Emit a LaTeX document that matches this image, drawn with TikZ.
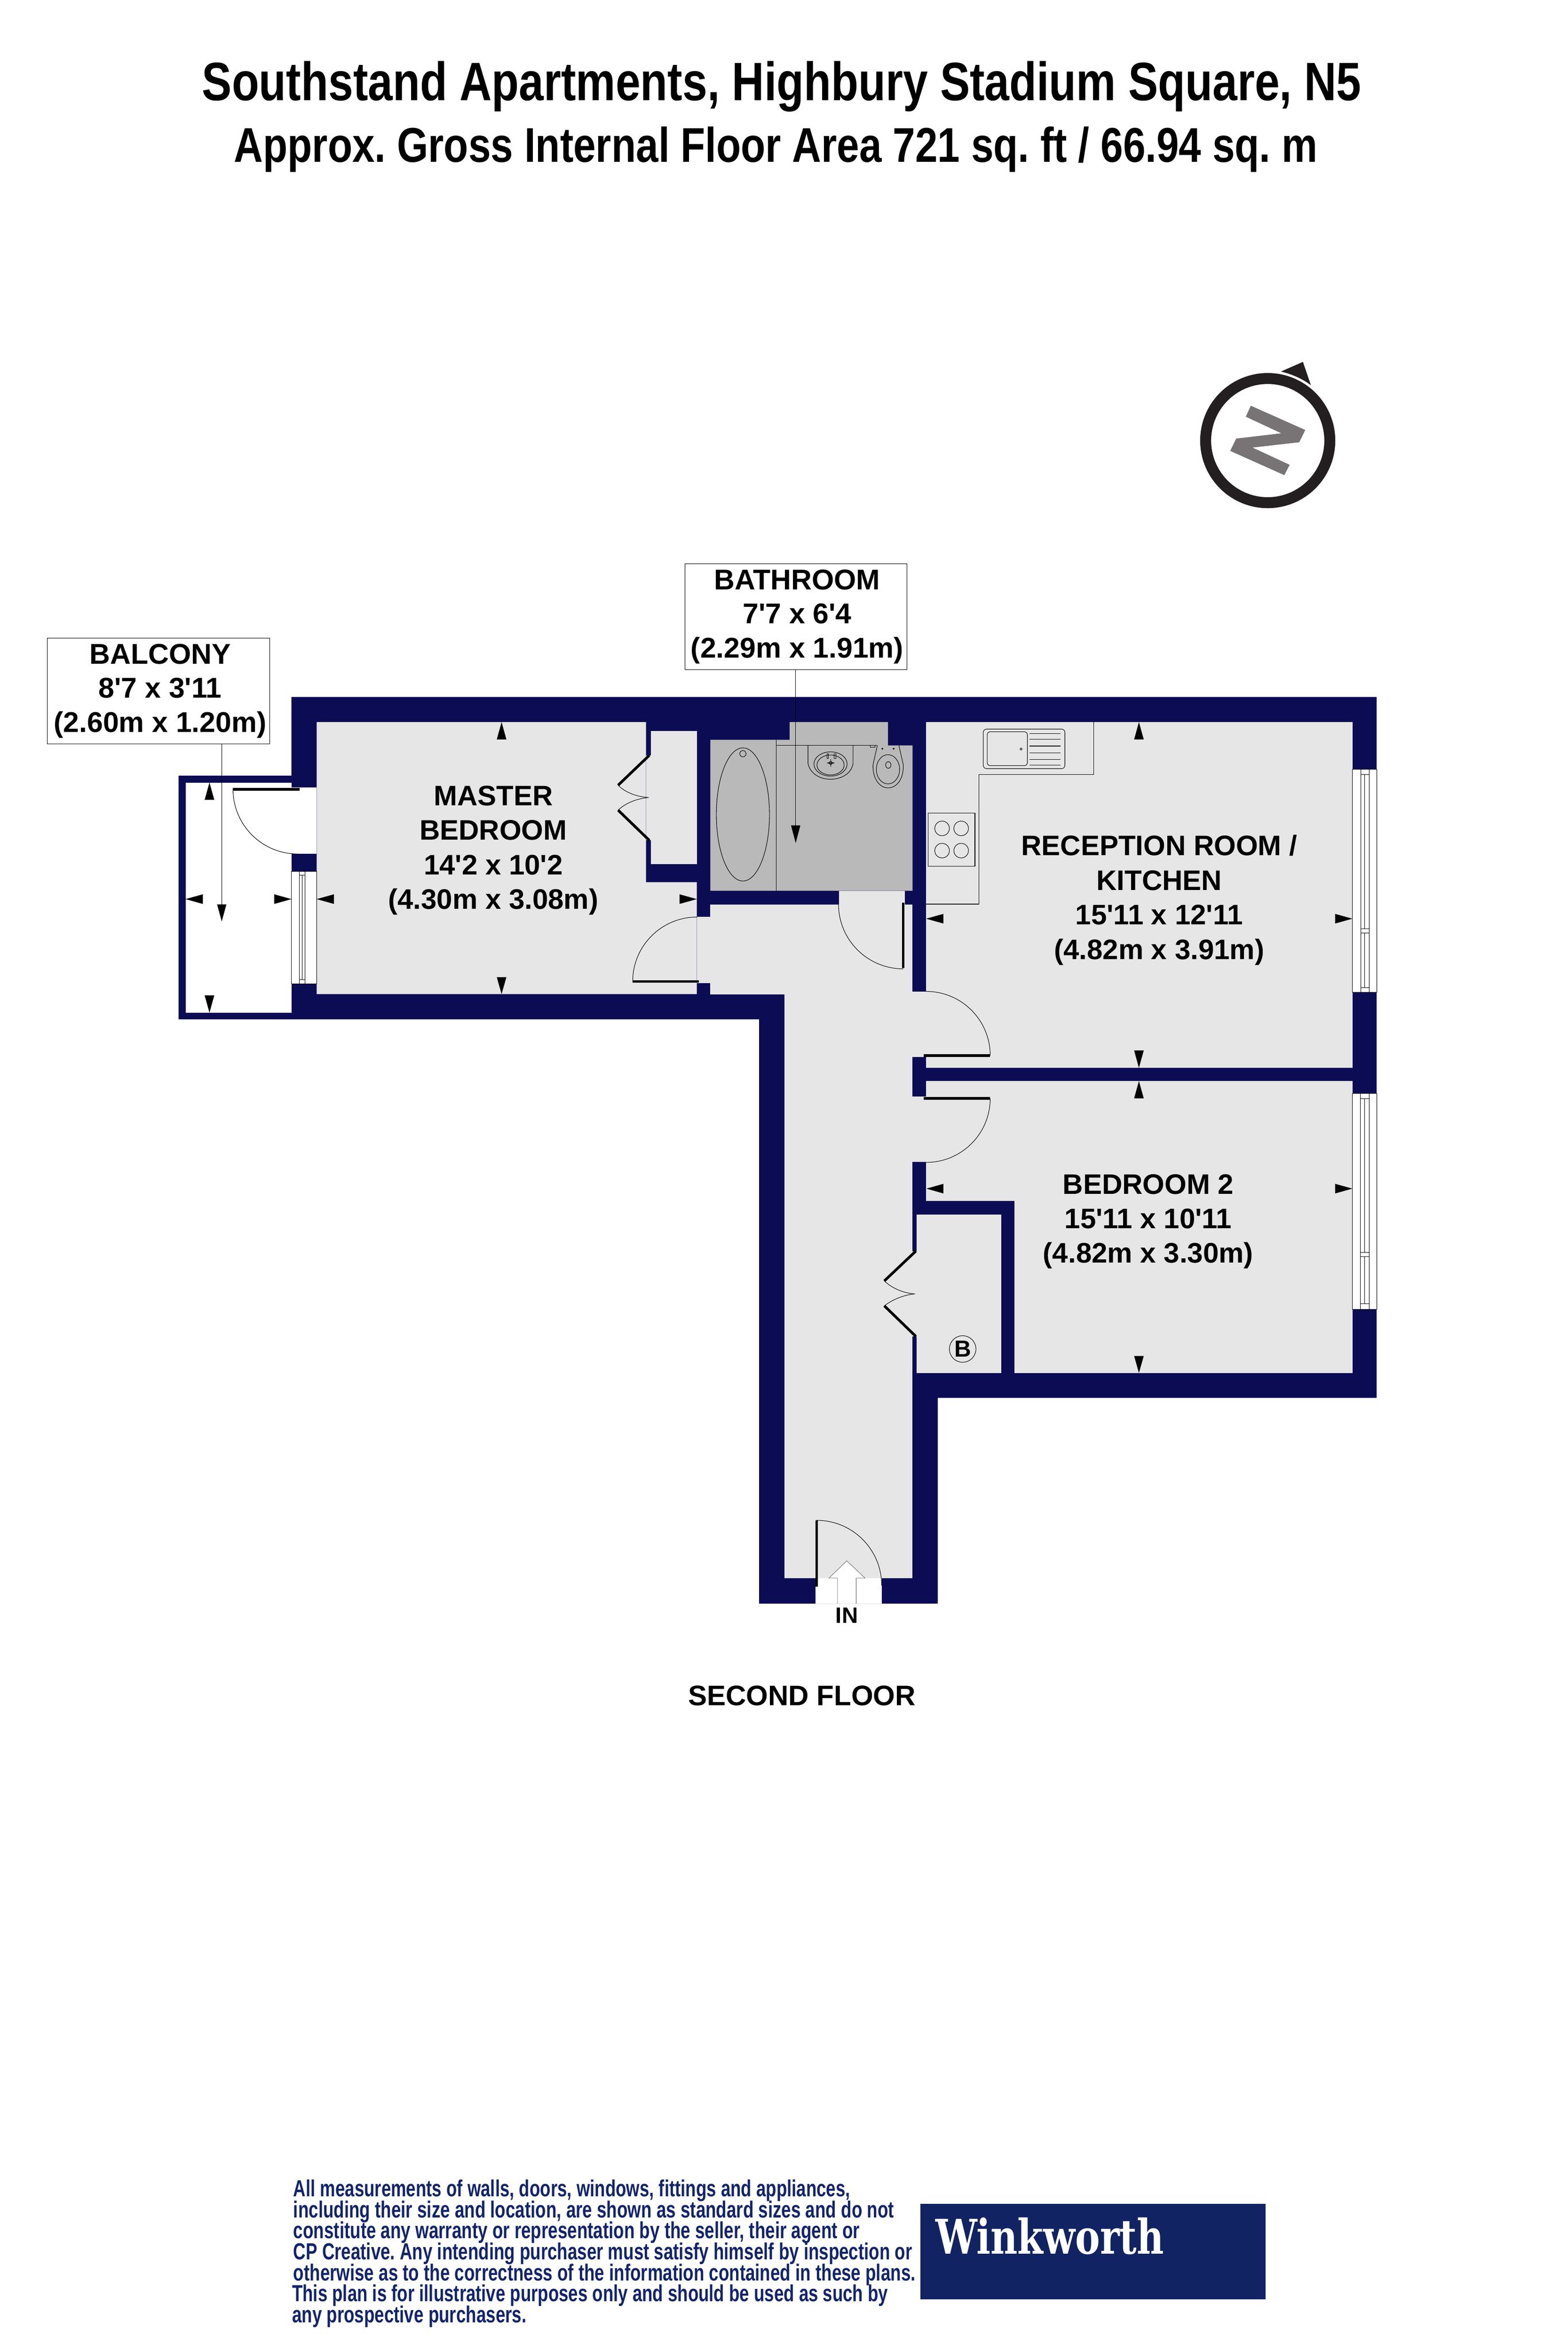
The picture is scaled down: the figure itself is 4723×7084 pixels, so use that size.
\documentclass[tikz,border=0pt]{standalone}
\usepackage{fontspec}
\usepackage{graphicx}
\setmainfont[Ligatures=TeXOff]{Liberation Sans}
\newfontfamily\logofont{DejaVu Serif}
\definecolor{wallnavy}{HTML}{0C0C55}
\definecolor{floorgrey}{HTML}{E6E6E6}
\definecolor{bathgrey}{HTML}{B9B9B9}
\definecolor{printnavy}{HTML}{12246A}
\definecolor{logonavy}{HTML}{122363}
\definecolor{compassblack}{HTML}{231F20}
\definecolor{compassgrey}{HTML}{787476}
\newcommand{\varrow}[3]{\fill[black] (#1,#2) -- ({#1-14.5},#3) -- ({#1+14.5},#3) -- cycle;}
\newcommand{\harrow}[3]{\fill[black] (#2,#1) -- (#3,{#1-14.5}) -- (#3,{#1+14.5}) -- cycle;}
\newcommand{\doorarc}[7]{\draw[fine] ({#1+#7*#3},{#2+#7*#4}) .. controls ({#1+#7*#3+.5523*#7*#5},{#2+#7*#4+.5523*#7*#6}) and ({#1+#7*#5+.5523*#7*#3},{#2+#7*#6+.5523*#7*#4}) .. ({#1+#7*#5},{#2+#7*#6});}
\newcommand{\footline}[5]{\node[anchor=base west,inner sep=0pt,text=printnavy,font=\fontsize{14}{16}\selectfont\bfseries] (#1) at (#2,#3) {\resizebox{#4}{\height}{#5}};}
\tikzset{
  fine/.style={black,line width=0.3pt},
  leaf/.style={black,line width=1.6pt},
  roomtext/.style={inner sep=0pt,align=center,font=\fontsize{17}{20.8}\selectfont\bfseries},
  labelbox/.style={draw=black,line width=0.3pt,fill=white,inner sep=0pt,align=center,font=\fontsize{17.2}{20.6}\selectfont\bfseries},
  pane/.style={draw=black,line width=0.25pt}
}
\begin{document}
\frenchspacing
\begin{tikzpicture}[x=0.2pt,y=-0.2pt]
\useasboundingbox (0,0) rectangle (4723,7084);
\fill[white] (0,0) rectangle (4723,7084);
% title
\node[anchor=base west,inner sep=0pt,font=\fontsize{32.6}{36}\selectfont\bfseries] (title) at (608,302) {\resizebox{698.4pt}{\height}{Southstand Apartments, Highbury Stadium Square, N5}};
\node[anchor=base west,inner sep=0pt,font=\fontsize{29.4}{32}\selectfont\bfseries] (subtitle) at (704,488) {\resizebox{652.8pt}{\height}{Approx. Gross Internal Floor Area 721 sq. ft / 66.94 sq. m}};
% compass
\draw[compassblack,line width=6.6pt] (3819,1327) circle[radius=187];
\fill[compassblack] (3859,1119) -- (3925,1090) -- (3949,1160) .. controls (3922,1140) and (3892,1127) .. (3859,1119) -- cycle;
\fill[compassgrey] (3768,1222) -- (3932,1295) -- (3914,1332) -- (3773,1348) -- (3885,1400) -- (3869,1431) -- (3706,1358) -- (3724,1321) -- (3860,1305) -- (3753,1255) -- cycle;
% shell
\fill[wallnavy] (878,2099) -- (4147,2099) -- (4147,4210) -- (2825,4210) -- (2825,4830) -- (2287,4830) -- (2287,3070) -- (538,3070) -- (538,2336) -- (878,2336) -- cycle;
\fill[white] (559,2357) rectangle (878,3050);
% floors
\fill[floorgrey] (954,2175) -- (1946,2175) -- (1946,2657) -- (2099,2657) -- (2099,2994) -- (954,2994) -- cycle;
\fill[floorgrey] (1961,2201) rectangle (2099,2602);
\fill[floorgrey] (1946,2275) rectangle (1961,2531);
\fill[floorgrey] (2099,2762) rectangle (2140,2961);
\fill[floorgrey] (2140,2724) rectangle (2749,2995);
\fill[floorgrey] (2527,2683) rectangle (2726,2724);
\fill[wallnavy] (2726,2683) rectangle (2749,2724);
\fill[floorgrey] (2363,2995) rectangle (2748,4753);
\fill[floorgrey] (2748,2986) rectangle (2791,3184);
\fill[floorgrey] (2748,3303) rectangle (2791,3500);
\fill[floorgrey] (2790,2175) rectangle (4074,3216);
\fill[floorgrey] (2790,3256) rectangle (4074,3617);
\fill[floorgrey] (3056,3617) rectangle (4074,4135);
\fill[floorgrey] (2762,3658) rectangle (3016,4135);
\fill[floorgrey] (2748,3768) rectangle (2762,4025);
\fill[bathgrey] (2140,2228) -- (2379,2228) -- (2379,2175) -- (2675,2175) -- (2675,2245) -- (2749,2245) -- (2749,2683) -- (2140,2683) -- cycle;
% openings
\fill[white] (878,2372) rectangle (954,2572);
\fill[white] (2456,4753) rectangle (2657,4830);
% windows
\fill[white] (878,2624) rectangle (954,2963);
\draw[pane] (878,2624) rectangle (954,2963);
\draw[pane] (902,2624) -- (902,2963) (918,2624) -- (918,2963) (902,2636) -- (918,2636) (902,2951) -- (918,2951) (910,2636) -- (910,2951);
\fill[white] (4074,2317) rectangle (4147,2989);
\draw[pane] (4074,2317) rectangle (4147,2989);
\draw[pane] (4099,2317) -- (4099,2989) (4125,2317) -- (4125,2989) (4099,2332) -- (4125,2332) (4099,2797) -- (4125,2797) (4099,2810) -- (4125,2810) (4099,2974) -- (4125,2974) (4111,2332) -- (4111,2797) (4111,2810) -- (4111,2974);
\fill[white] (4074,3293) rectangle (4147,3943);
\draw[pane] (4074,3293) rectangle (4147,3943);
\draw[pane] (4098,3293) -- (4098,3943) (4125,3293) -- (4125,3943) (4098,3309) -- (4125,3309) (4098,3772) -- (4125,3772) (4098,3785) -- (4125,3785) (4098,3927) -- (4125,3927) (4111,3309) -- (4111,3772) (4111,3785) -- (4111,3927);
% doors
\draw[leaf] (702,2377) -- (903,2377);
\doorarc{897}{2377}{-1}{0}{0}{1}{195}
\draw[leaf] (1906,2956) -- (2105,2956);
\doorarc{2100}{2956}{-1}{0}{0}{-1}{194}
\draw[leaf] (2721,2719) -- (2721,2916);
\doorarc{2721}{2723}{-1}{0}{0}{1}{195}
\draw[leaf] (2783,3179) -- (2983,3179);
\doorarc{2790}{3179}{1}{0}{0}{-1}{193}
\draw[leaf] (2783,3308) -- (2983,3308);
\doorarc{2790}{3308}{1}{0}{0}{1}{193}
\draw[leaf] (2460,4579) -- (2460,4779);
\doorarc{2460}{4775}{0}{-1}{1}{0}{196}
% wardrobe and boiler cupboard doors
\draw[leaf] (1956,2275) -- (1862,2365);
\draw[leaf] (1956,2531) -- (1862,2440);
\draw[fine] (1862,2365) .. controls (1885,2388) and (1920,2400) .. (1954,2402);
\draw[fine] (1862,2440) .. controls (1885,2418) and (1920,2405) .. (1954,2402);
\draw[leaf] (2759,3768) -- (2664,3858);
\draw[leaf] (2759,4025) -- (2664,3933);
\draw[fine] (2664,3858) .. controls (2687,3880) and (2722,3895) .. (2756,3897);
\draw[fine] (2664,3933) .. controls (2687,3915) and (2722,3900) .. (2756,3897);
\draw[fine] (2900,4063) circle[radius=40];
\node[inner sep=0pt,font=\fontsize{14}{14}\selectfont\bfseries] (boiler) at (2900,4063) {B};
% bathroom fittings
\draw[fine] (2338,2228) -- (2338,2683);
\draw[fine] (2338,2245) -- (2643,2245);
\draw[fine] (2238,2453) ellipse[x radius=80,y radius=200.5];
\draw[fine] (2238,2270) circle[radius=9.5];
\draw[fine] (2434,2245) -- (2434,2299) .. controls (2440,2330) and (2470,2347) .. (2502,2347) .. controls (2535,2347) and (2565,2330) .. (2570,2299) -- (2570,2245);
\draw[fine] (2502,2301) ellipse[x radius=50,y radius=36.5];
\draw[fine] (2502,2304) ellipse[x radius=41,y radius=30];
\draw[fine] (2502.5,2298) circle[radius=4.8];
\draw[fine] (2492,2298) -- (2513,2298) (2502.5,2287) -- (2502.5,2309);
\draw[fine] (2491,2270) rectangle (2496,2285);
\draw[fine] (2513,2270) rectangle (2518,2285);
\draw[fine] (2643,2245) -- (2630,2303) .. controls (2628,2345) and (2650,2373) .. (2675,2373) .. controls (2702,2373) and (2723,2345) .. (2721,2303) -- (2708,2245);
\draw[fine] (2675,2317) ellipse[x radius=35,y radius=44];
\draw[fine] (2676,2304) ellipse[x radius=8,y radius=10];
\draw[fine] (2658,2255) circle[radius=2];
\draw[fine] (2692,2255) circle[radius=2];
\draw[fine] (2622,2245) rectangle (2636,2250);
% kitchen fittings
\draw[fine] (3295,2175) -- (3295,2333) -- (2949,2333) -- (2949,2723) -- (2790,2723);
\draw[fine,rounded corners=2pt] (2962,2196) rectangle (3208,2315);
\draw[fine,rounded corners=1.6pt] (2974,2204) rectangle (3095,2306);
\foreach \ly in {2210,2227,2247,2267,2287,2304} \draw[fine] (3102,\ly) -- (3195,\ly);
\draw[fine] (3076,2256) circle[radius=3];
\draw[fine] (2796,2449) rectangle (2937,2609);
\foreach \hx/\hy in {2838/2495,2895.5/2495,2838/2562,2895.5/2562} \draw[fine] (\hx,\hy) circle[radius=22];
% room dimension arrows
\varrow{1511}{2175}{2227}
\varrow{1511}{2994}{2943}
\harrow{2708}{954}{1006}
\harrow{2708}{2099}{2047}
\harrow{2708}{559}{611}
\harrow{2708}{878}{826}
\varrow{631}{2357}{2409}
\varrow{631}{3050}{2998}
\varrow{3431}{2175}{2227}
\varrow{3431}{3216}{3164}
\harrow{2767}{2790}{2842}
\harrow{2767}{4074}{4022}
\varrow{3431}{3256}{3308}
\varrow{3431}{4135}{4084}
\harrow{3580}{2791}{2842}
\harrow{3580}{4074}{4022}
% labels
\node[roomtext] (master) at (1486,2561) {MASTER\\BEDROOM\\14'2 x 10'2\\(4.30m x 3.08m)};
\node[roomtext] (reception) at (3492,2711) {RECEPTION ROOM /\\KITCHEN\\15'11 x 12'11\\(4.82m x 3.91m)};
\node[roomtext] (bedtwo) at (3459,3679) {BEDROOM 2\\15'11 x 10'11\\(4.82m x 3.30m)};
\node[labelbox,minimum width=669*0.2pt,minimum height=319*0.2pt] (bathlabel) at (2397.5,1857.5) {\hspace*{1.6pt}BATHROOM\\\hspace*{1.6pt}7'7 x 6'4\\\hspace*{1.6pt}(2.29m x 1.91m)};
\node[labelbox,minimum width=669*0.2pt,minimum height=318*0.2pt] (balclabel) at (477.5,2081) {\hspace*{2pt}BALCONY\\\hspace*{2pt}8'7 x 3'11\\\hspace*{2pt}(2.60m x 1.20m)};
\coordinate (bathtip) at (2397,2539);
\coordinate (balctip) at (668,2775);
\draw[fine] (bathlabel.south -| bathtip) -- (2397,2490);
\fill[black] (bathtip) -- (2383,2486) -- (2411,2486) -- cycle;
\draw[fine] (balclabel.south -| balctip) -- (668,2728);
\fill[black] (balctip) -- (654,2724) -- (682,2724) -- cycle;
% entrance arrow
\fill[white] (2551,4701) -- (2606,4753) -- (2579,4753) -- (2579,4830) -- (2523,4830) -- (2523,4753) -- (2497,4753) -- cycle;
\draw[draw=black!60,line width=0.25pt] (2579,4830) -- (2579,4753) -- (2606,4753) -- (2551,4701) -- (2497,4753) -- (2523,4753) -- (2523,4830);
\node[inner sep=0pt,font=\fontsize{13.4}{14}\selectfont\bfseries] (inlabel) at (2551,4866) {IN};
\node[anchor=base,inner sep=0pt,font=\fontsize{17}{20}\selectfont\bfseries] (floorname) at (2416,5136) {SECOND FLOOR};
% footer
\footline{fa}{883}{6616}{335.4pt}{All measurements of walls, doors, windows, fittings and appliances,}
\footline{fb}{883}{6679}{361.8pt}{including their size and location, are shown as standard sizes and do not}
\footline{fc}{883}{6742}{341.2pt}{constitute any warranty or representation by the seller, their agent or}
\footline{fd}{883}{6806}{372.8pt}{CP Creative. Any intending purchaser must satisfy himself by inspection or}
\footline{fe}{883}{6869}{374.8pt}{otherwise as to the correctness of the information contained in these plans.}
\footline{ff}{879}{6932}{359pt}{This plan is for illustrative purposes only and should be used as such by}
\footline{fg}{879}{6995}{141.2pt}{any prospective purchasers.}
\fill[logonavy] (2772,6637) rectangle (3812,6925);
\node[anchor=base west,inner sep=0pt,text=white,font=\fontsize{28.8}{30}\selectfont\logofont\bfseries] (logo) at (2817,6788) {\resizebox{137.6pt}{\height}{Winkworth}};
\end{tikzpicture}
\end{document}
